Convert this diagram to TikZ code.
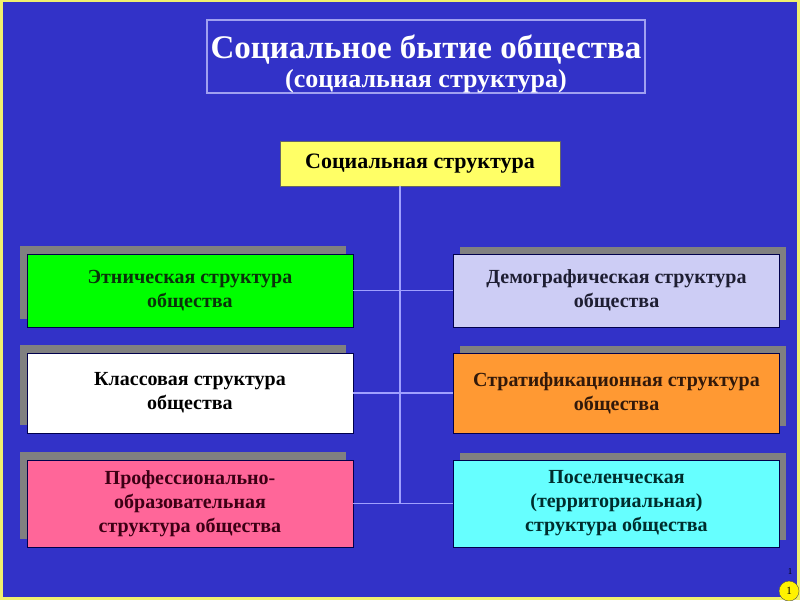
\documentclass[tikz,border=0pt]{standalone}
\usepackage{fontspec}
\setmainfont{Liberation Serif}
\usetikzlibrary{shadows}

\definecolor{slideblue}{RGB}{50,50,200}
\definecolor{frameyellow}{RGB}{240,240,110}
\definecolor{titleline}{RGB}{160,160,240}
\definecolor{linkblue}{RGB}{160,160,255}
\definecolor{topfill}{RGB}{255,255,102}
\definecolor{ethnfill}{RGB}{0,255,0}
\definecolor{demfill}{RGB}{205,205,245}
\definecolor{clsfill}{RGB}{255,255,255}
\definecolor{stratfill}{RGB}{255,153,51}
\definecolor{proffill}{RGB}{255,102,153}
\definecolor{settlfill}{RGB}{102,255,255}
\definecolor{ethntext}{RGB}{10,50,10}
\definecolor{demtext}{RGB}{30,30,50}
\definecolor{clstext}{RGB}{0,0,0}
\definecolor{strattext}{RGB}{50,25,10}
\definecolor{proftext}{RGB}{60,0,20}
\definecolor{settltext}{RGB}{0,45,45}

\begin{document}
\begin{tikzpicture}[x=1pt,y=-1pt,
    box/.style={draw=black!70!blue,thin,minimum width=326pt,align=center,
        inner sep=2pt,font=\bfseries\fontsize{20}{24}\selectfont},
    lshadow/.style={drop shadow={shadow xshift=-7pt,shadow yshift=8pt,fill=gray,opacity=1}},
    rshadow/.style={drop shadow={shadow xshift=6pt,shadow yshift=7pt,fill=gray,opacity=1}},
    link/.style={draw=linkblue,line width=1.4pt}]

    \useasboundingbox (0,0) rectangle (800,600);

    % Slide background with thin frame
    \fill[frameyellow] (0,0) rectangle (800,600);
    \fill[slideblue] (3,2) rectangle (797,597);

    % Heading
    \node[draw=titleline,line width=1.2pt,minimum width=438pt,minimum height=73pt] (title) at (426,56.5) {};
    \node[text=white,align=center,inner sep=0pt,font=\bfseries\fontsize{26}{29}\selectfont]
        (heading) at ([yshift=-7pt]title.center)
        {{\fontsize{33}{29}\selectfont Социальное бытие общества}\\
         (социальная структура)};

    \node[draw=black!60,fill=topfill,minimum width=280pt,minimum height=45pt,
        font=\bfseries\fontsize{22}{24}\selectfont] (top) at (420,163.5) {Социальная структура};

    % Left column
    \foreach \nm/\yy/\hh/\txt in {
        ethn/290.5/73/{Этническая структура\\общества},
        cls/393/80/{Классовая структура\\общества},
        prof/503.5/87/{Профессионально-\\образовательная\\структура общества}} {
        \node[box,lshadow,fill=\nm fill,text=\nm text,minimum height=\hh pt] (\nm) at (190,\yy) {\txt};
    }

    % Right column
    \foreach \nm/\yy/\hh/\txt in {
        dem/290.5/73/{Демографическая структура\\общества},
        strat/393/80/{Стратификационная структура\\общества},
        settl/503.5/87/{Поселенческая\\(территориальная)\\структура общества}} {
        \node[box,rshadow,fill=\nm fill,text=\nm text,minimum height=\hh pt] (\nm) at (616.5,\yy) {\txt};
    }

    % Connectors
    \coordinate (trunk) at (400,186);
    \draw[link] (trunk) -- (trunk |- prof.east);
    \foreach \a/\b in {ethn/dem,cls/strat,prof/settl} {
        \draw[link] (\a.east) -- (\b.west);
    }

    % Page number
    \node[circle,draw=black!70,fill=yellow,minimum size=20pt,inner sep=0pt,
        font=\fontsize{11}{11}\selectfont] (pnum) at (789,591) {1};
    \node[inner sep=0pt,font=\fontsize{9}{9}\selectfont] (pnumtop) at (790,572) {1};

\end{tikzpicture}
\end{document}
